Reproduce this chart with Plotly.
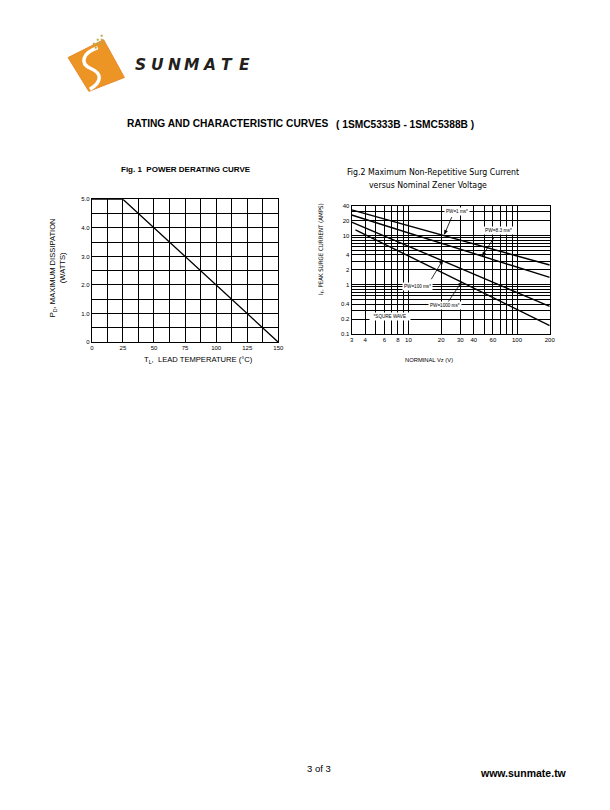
import math
import plotly.graph_objects as go

W, H = 610, 810


def X(px):
    return px / W


def Y(py):
    return 1 - py / H


FONT = "Liberation Sans, Arial, sans-serif"
COND = "DejaVu Sans Condensed, Liberation Sans, sans-serif"

# ---------------- Fig. 1 data ----------------
lead_temp = [0, 25, 150]
max_power = [5.0, 5.0, 0.0]
f1_xticks = [0, 25, 50, 75, 100, 125, 150]
f1_xticktext = ["0", "25", "50", "75", "100", "125", "150"]
f1_xminor = [12.5, 37.5, 62.5, 87.5, 112.5, 137.5]
f1_yticks = [0, 1, 2, 3, 4, 5]
f1_yticktext = ["0", "1.0", "2.0", "3.0", "4.0", "5.0"]
f1_yminor = [0.5, 1.5, 2.5, 3.5, 4.5]

# ---------------- Fig. 2 data ----------------
vz_1ms = [3.0, 200.0]
ir_1ms = [33.0, 2.5]
vz_8ms = [3.0, 200.0]
ir_8ms = [26.0, 1.4]
vz_100ms = [3.0, 200.0]
ir_100ms = [18.7, 0.36]
vz_1000ms = [3.25, 200.0]
ir_1000ms = [13.0, 0.147]

f2_xticks = [3, 4, 6, 8, 10, 20, 30, 40, 60, 100, 200]
f2_xticktext = ["3", "4", "6", "8", "10", "20", "30", "40", "60", "100", "200"]
f2_xminor = [5, 7, 9, 50, 70, 80, 90]
f2_yticks = [0.1, 0.2, 0.4, 1, 2, 4, 10, 20, 40]
f2_yticktext = ["0.1", "0.2", "0.4", "1", "2", "4", "10", "20", "40"]
f2_yminor = [0.3, 0.5, 0.6, 0.7, 0.8, 0.9, 3, 5, 6, 7, 8, 9, 30]

fig = go.Figure()

fig.add_trace(go.Scatter(x=lead_temp, y=max_power, mode="lines",
                         line=dict(color="black", width=1.3),
                         xaxis="x", yaxis="y", showlegend=False, hoverinfo="skip"))

for vx, vy in [(vz_1ms, ir_1ms), (vz_8ms, ir_8ms), (vz_100ms, ir_100ms), (vz_1000ms, ir_1000ms)]:
    fig.add_trace(go.Scatter(x=vx, y=vy, mode="lines",
                             line=dict(color="black", width=1.4),
                             xaxis="x2", yaxis="y2", showlegend=False, hoverinfo="skip"))

axis_common = dict(showline=True, mirror=True, linecolor="black", linewidth=1,
                   showgrid=True, gridcolor="black", gridwidth=1, ticks="",
                   zeroline=False, tickfont=dict(family=FONT, size=6, color="black"))

fig.update_layout(
    width=W, height=H, margin=dict(l=0, r=0, t=0, b=0),
    paper_bgcolor="white", plot_bgcolor="white",
    xaxis=dict(domain=[X(91), X(280)], range=[0, 150], anchor="y",
               tickmode="array", tickvals=f1_xticks, ticktext=f1_xticktext,
               minor=dict(tickmode="array", tickvals=f1_xminor, showgrid=True,
                          gridcolor="black", gridwidth=1, ticks=""),
               **axis_common),
    yaxis=dict(domain=[Y(341.7), Y(197.7)], range=[0, 5], anchor="x",
               tickmode="array", tickvals=f1_yticks, ticktext=f1_yticktext,
               minor=dict(tickmode="array", tickvals=f1_yminor, showgrid=True,
                          gridcolor="black", gridwidth=1, ticks=""),
               **axis_common),
    xaxis2=dict(domain=[X(354.3), X(555)], type="log", range=[0.4771, 2.3010], anchor="y2",
                tickmode="array", tickvals=f2_xticks, ticktext=f2_xticktext,
                minor=dict(tickmode="array", tickvals=f2_xminor, showgrid=True,
                           gridcolor="black", gridwidth=1, ticks=""),
                **axis_common),
    yaxis2=dict(domain=[Y(333.3), Y(204.3)], type="log", range=[-1, 1.6021], anchor="x2",
                tickmode="array", tickvals=f2_yticks, ticktext=f2_yticktext,
                minor=dict(tickmode="array", tickvals=f2_yminor, showgrid=True,
                           gridcolor="black", gridwidth=1, ticks=""),
                **axis_common),
)

ann = []


def txt(px, py, text, size, family=FONT, bold=False, xanchor="center", angle=0,
        bgcolor=None, color="black", italic=False):
    if bold:
        text = "<b>" + text + "</b>"
    if italic:
        text = "<i>" + text + "</i>"
    d = dict(x=X(px), y=Y(py), xref="paper", yref="paper", text=text, showarrow=False,
             xanchor=xanchor, yanchor="middle", textangle=angle,
             font=dict(family=family, size=size, color=color))
    if bgcolor:
        d["bgcolor"] = bgcolor
        d["borderpad"] = 1
    ann.append(d)


# page header
txt(333, 121, "RATING AND CHARACTERISTIC CURVES", 10.2, bold=True, xanchor="right")
txt(336, 122, "( 1SMC5333B - 1SMC5388B )", 10.2, bold=True, xanchor="left")

# logo text
logo_letters = ["S", "U", "N", "M", "A", "T", "E"]
for i, ch in enumerate(logo_letters):
    txt(140 + 17.6 * i, 62.5, ch, 15.5, family="DejaVu Sans, sans-serif", bold=True, italic=True,
        color="#231f1c")

# Fig 1 texts
txt(186, 168, "Fig. 1  POWER DERATING CURVE", 8, bold=True)
txt(52, 267, "P<sub>D</sub>, MAXIMUM DISSIPATION", 7.6, angle=-90)
txt(61, 267, "(WATTS)", 7.6, angle=-90)
txt(199, 360, "T<sub>L</sub>,  LEAD TEMPERATURE (°C)", 7.6)

# Fig 2 texts
txt(437, 170, "Fig.2 Maximum Non-Repetitive Surg Current", 8.7, family=COND)
txt(432, 183, "versus Nominal Zener Voltage", 8.7, family=COND)
txt(323, 248, "I<sub>F</sub>, PEAK SURGE CURRENT (AMPS)", 6.1, family=COND, angle=-90)
txt(433, 360, "NORMINAL Vz (V)", 5.8)

# curve labels
txt(461, 210, "PW=1 ms*", 4.6, bgcolor="white")
txt(503, 229, "PW=8.3 ms*", 4.8, bgcolor="white")
txt(421.5, 285.5, "PW=100 ms*", 4.6, bgcolor="white")
txt(449, 304.5, "PW=1000 ms*", 4.6, bgcolor="white")
txt(393, 316, "  *SQURE WAVE  ", 4.6, bgcolor="white")

# footer
txt(321, 771, "3 of 3", 9.5)
txt(528, 776, "www.sunmate.tw", 10.5, bold=True)

fig.update_layout(annotations=ann)

shapes = []

# arrows (head, tail) in page pixels, drawn as line + small arrowhead
arrows = [((448.3, 233), (455.7, 215.7)),
          ((486.7, 255), (498.7, 236)),
          ((446.7, 259), (435, 278.3)),
          ((465.7, 281), (451.7, 301.7))]
for (hx, hy), (tx, ty) in arrows:
    shapes.append(dict(type="line", x0=X(tx), y0=Y(ty), x1=X(hx), y1=Y(hy),
                       xref="paper", yref="paper", line=dict(color="black", width=0.8),
                       layer="above"))
    L = math.hypot(hx - tx, hy - ty)
    dx, dy = (hx - tx) / L, (hy - ty) / L
    nx, ny = -dy, dx
    p1 = (hx - 4 * dx + 1.6 * nx, hy - 4 * dy + 1.6 * ny)
    p2 = (hx - 4 * dx - 1.6 * nx, hy - 4 * dy - 1.6 * ny)
    tri = (f"M {X(hx):.5f},{Y(hy):.5f} L {X(p1[0]):.5f},{Y(p1[1]):.5f} "
           f"L {X(p2[0]):.5f},{Y(p2[1]):.5f} Z")
    shapes.append(dict(type="path", path=tri, xref="paper", yref="paper",
                       fillcolor="black", line=dict(color="black", width=0.5), layer="above"))

# logo shapes
sq = [(67, 55), (103, 37), (124, 75), (88, 89)]
path = "M " + " L ".join(f"{X(a):.5f},{Y(b):.5f}" for a, b in sq) + " Z"
shapes.append(dict(type="path", path=path, xref="paper", yref="paper",
                   fillcolor="#EC9424", line=dict(color="#E8882A", width=1), layer="above"))
s_path = (f"M {X(97):.5f},{Y(45):.5f} C {X(82):.5f},{Y(50):.5f} {X(78):.5f},{Y(61):.5f} "
          f"{X(90):.5f},{Y(66):.5f} C {X(102):.5f},{Y(71):.5f} {X(101):.5f},{Y(80):.5f} {X(89):.5f},{Y(87):.5f}")
shapes.append(dict(type="path", path=s_path, xref="paper", yref="paper",
                   line=dict(color="white", width=3.5), layer="above"))
dots = [(93, 41), (97, 41), (101, 41), (97, 37), (101, 37), (101, 33), (95, 45)]
for (dx_, dy_) in dots:
    shapes.append(dict(type="rect", x0=X(dx_ - 1), x1=X(dx_ + 1), y0=Y(dy_ + 1), y1=Y(dy_ - 1),
                       xref="paper", yref="paper", fillcolor="#B8A848",
                       line=dict(width=0), layer="above"))
fig.update_layout(shapes=shapes)

fig.write_html("out.html", config={"displayModeBar": False},
               post_script="document.body.style.margin='0';")
